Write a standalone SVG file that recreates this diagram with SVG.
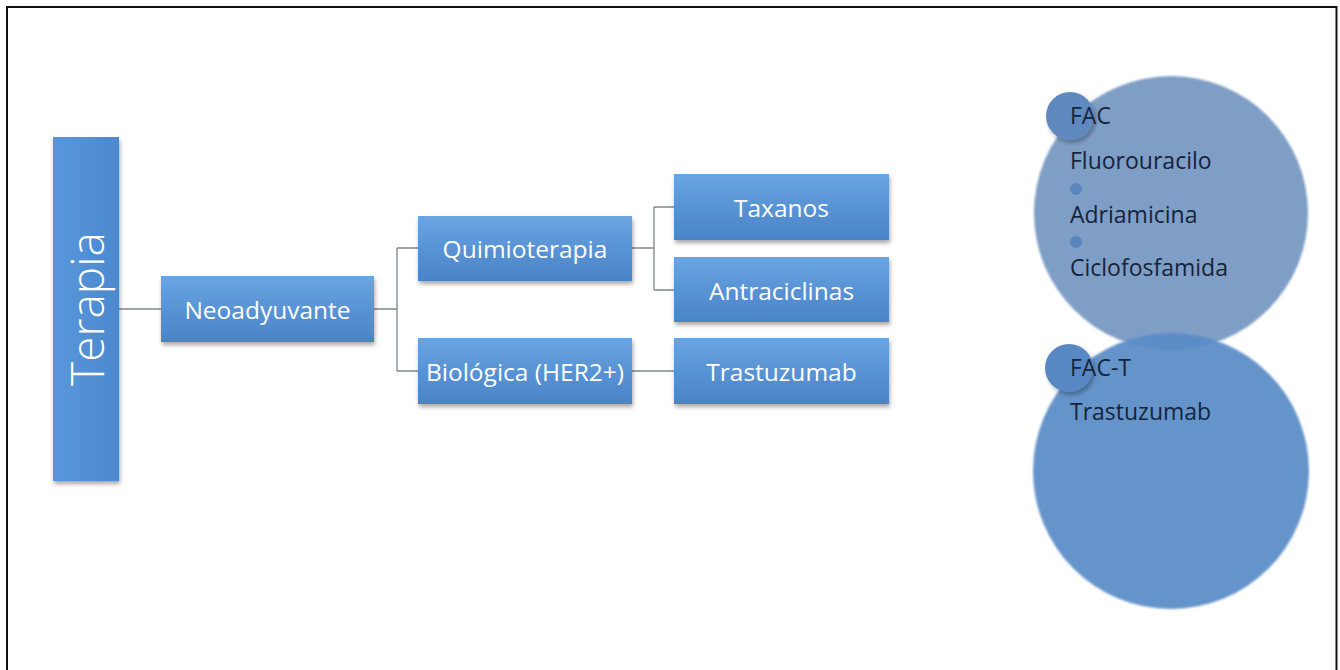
<svg xmlns="http://www.w3.org/2000/svg" width="1340" height="670" viewBox="0 0 1340 670">
<style>
.box{fill:url(#bg);filter:url(#sh)}
.bt{font-family:"Open Sans","Liberation Sans",sans-serif;font-size:24.5px;fill:#ffffff;text-anchor:middle;dominant-baseline:central}
.ct{font-family:"Open Sans","Liberation Sans",sans-serif;font-size:23px;fill:#15243c}
.ln{fill:none;stroke:#7d868f;stroke-width:1.3}
</style>
<defs>
<linearGradient id="bg" x1="0" y1="0" x2="0" y2="1">
<stop offset="0" stop-color="#6ba5e1"/>
<stop offset="0.5" stop-color="#5893d5"/>
<stop offset="1" stop-color="#4a84c7"/>
</linearGradient>
<linearGradient id="bgv" x1="0" y1="0" x2="1" y2="0">
<stop offset="0" stop-color="#5896dc"/>
<stop offset="1" stop-color="#4c89cf"/>
</linearGradient>
<filter id="sh" x="-20%" y="-20%" width="140%" height="150%">
<feGaussianBlur in="SourceAlpha" stdDeviation="2"/>
<feOffset dx="1" dy="3" result="b"/>
<feComponentTransfer><feFuncA type="linear" slope="0.35"/></feComponentTransfer>
<feMerge><feMergeNode/><feMergeNode in="SourceGraphic"/></feMerge>
</filter>
<filter id="soft" x="-10%" y="-10%" width="120%" height="120%">
<feGaussianBlur stdDeviation="1.2"/>
</filter>
<filter id="dsh" x="-50%" y="-50%" width="200%" height="200%">
<feGaussianBlur in="SourceAlpha" stdDeviation="2"/>
<feOffset dx="2" dy="3"/>
<feComponentTransfer><feFuncA type="linear" slope="0.3"/></feComponentTransfer>
<feMerge><feMergeNode/><feMergeNode in="SourceGraphic"/></feMerge>
</filter>
</defs>
<rect x="0" y="0" width="1340" height="670" fill="#ffffff"/>
<path d="M7,671 V7 H1336.5 V671" fill="none" stroke="#111111" stroke-width="2"/>

<g id="connectors">
<path class="ln" d="M119,309 H161"/>
<path class="ln" d="M374,309 H397 M397,248 V371 M397,248 H418 M397,371 H418"/>
<path class="ln" d="M632,248 H654 M654,207 V290 M654,207 H674 M654,290 H674"/>
<path class="ln" d="M632,371 H674"/>
</g>

<g id="terapia">
<rect x="53" y="137" width="66" height="344" fill="url(#bgv)" filter="url(#sh)"/>
<text transform="translate(86,309) rotate(-90)" font-family="'Open Sans','Liberation Sans',sans-serif" font-weight="300" font-size="46" fill="#ffffff" text-anchor="middle" dominant-baseline="central">Terapia</text>
</g>
<g id="neoadyuvante">
<rect class="box" x="161" y="276" width="213" height="66"/>
<text class="bt" x="267.5" y="309">Neoadyuvante</text>
</g>
<g id="quimioterapia">
<rect class="box" x="418" y="216" width="214" height="65"/>
<text class="bt" x="525" y="248">Quimioterapia</text>
</g>
<g id="biologica">
<rect class="box" x="418" y="338" width="214" height="66"/>
<text class="bt" x="525" y="371">Biológica (HER2+)</text>
</g>
<g id="taxanos">
<rect class="box" x="674" y="174" width="215" height="66"/>
<text class="bt" x="781.5" y="207">Taxanos</text>
</g>
<g id="antraciclinas">
<rect class="box" x="674" y="257" width="215" height="65"/>
<text class="bt" x="781.5" y="290">Antraciclinas</text>
</g>
<g id="trastuzumab">
<rect class="box" x="674" y="338" width="215" height="66"/>
<text class="bt" x="781.5" y="371">Trastuzumab</text>
</g>

<g id="fac">
<circle cx="1171" cy="213" r="137" fill="#7f9ec6" filter="url(#soft)"/>
<circle cx="1070" cy="116" r="24" fill="#5f89bf" filter="url(#dsh)"/>
<circle cx="1076" cy="189" r="6" fill="#5a86c0"/>
<circle cx="1076" cy="242" r="6" fill="#5a86c0"/>
<text class="ct" x="1070" y="124">FAC</text>
<text class="ct" x="1070" y="169">Fluorouracilo</text>
<text class="ct" x="1070" y="223">Adriamicina</text>
<text class="ct" x="1070" y="276">Ciclofosfamida</text>
</g>
<g id="fac-t">
<circle cx="1171" cy="471" r="138" fill="#5a8cc7" opacity="0.93" filter="url(#soft)"/>
<circle cx="1069" cy="368" r="24" fill="#5888c3" filter="url(#dsh)"/>
<text class="ct" x="1070" y="376">FAC-T</text>
<text class="ct" x="1070" y="420">Trastuzumab</text>
</g>
</svg>
